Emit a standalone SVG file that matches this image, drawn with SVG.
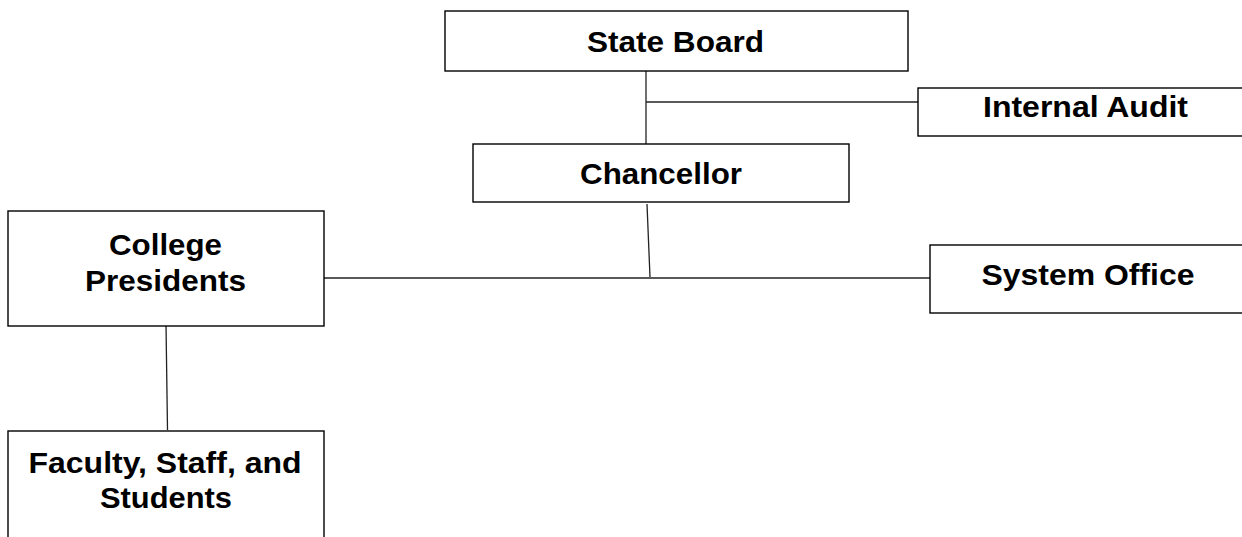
<svg xmlns="http://www.w3.org/2000/svg" width="1242" height="537" viewBox="0 0 1242 537">
<style>
.box{fill:#fff;stroke:#000;stroke-width:1.4}
.t{font-family:"Liberation Sans",Arial,sans-serif;font-weight:bold;font-size:29.5px;fill:#000;text-anchor:middle}
.c{stroke:#222;stroke-width:1.3;fill:none}
</style>
<rect width="1242" height="537" fill="#fff"/>
<g id="connectors">
<line class="c" x1="646" y1="71" x2="646" y2="144"/>
<line class="c" x1="646" y1="102" x2="918" y2="102"/>
<line class="c" x1="647" y1="204" x2="650" y2="277"/>
<line class="c" x1="324" y1="278" x2="930" y2="278"/>
<line class="c" x1="166" y1="324" x2="167.5" y2="430"/>
</g>
<g id="state-board">
<rect class="box" x="445" y="11" width="463" height="60"/>
<text class="t" x="675.5" y="52" textLength="177" lengthAdjust="spacingAndGlyphs">State Board</text>
</g>
<g id="internal-audit">
<rect class="box" x="918" y="88" width="330" height="48"/>
<text class="t" x="1085.5" y="117" textLength="205" lengthAdjust="spacingAndGlyphs">Internal Audit</text>
</g>
<g id="chancellor">
<rect class="box" x="473" y="144" width="376" height="58"/>
<text class="t" x="661" y="184" textLength="162" lengthAdjust="spacingAndGlyphs">Chancellor</text>
</g>
<g id="college-presidents">
<rect class="box" x="8" y="211" width="316" height="115"/>
<text class="t" x="165.5" y="255" textLength="113" lengthAdjust="spacingAndGlyphs">College</text>
<text class="t" x="165.5" y="291" textLength="161" lengthAdjust="spacingAndGlyphs">Presidents</text>
</g>
<g id="system-office">
<rect class="box" x="930" y="245" width="318" height="68"/>
<text class="t" x="1088" y="285" textLength="213" lengthAdjust="spacingAndGlyphs">System Office</text>
</g>
<g id="faculty-staff-students">
<rect class="box" x="8" y="431" width="316" height="120"/>
<text class="t" x="165" y="473" textLength="273" lengthAdjust="spacingAndGlyphs">Faculty, Staff, and</text>
<text class="t" x="166" y="508" textLength="132" lengthAdjust="spacingAndGlyphs">Students</text>
</g>
</svg>
